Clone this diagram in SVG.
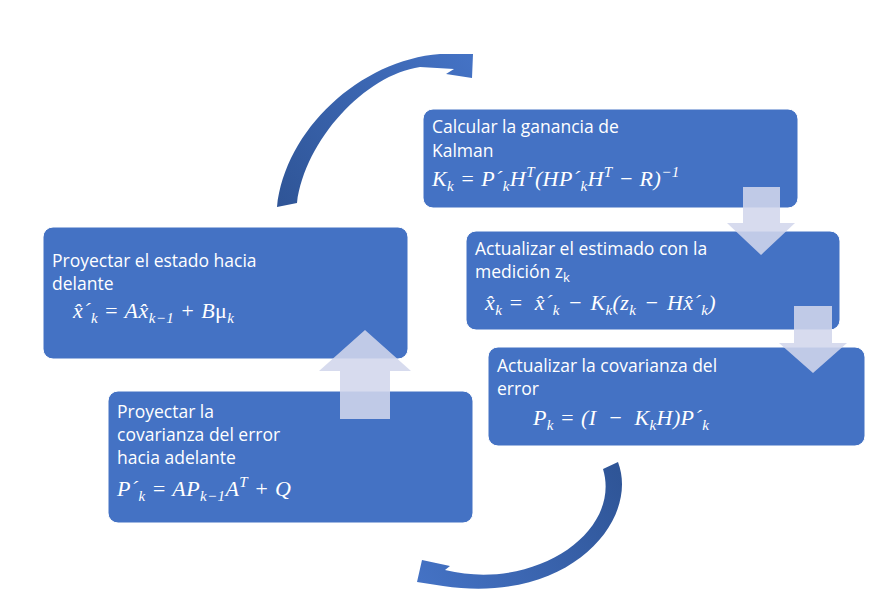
<svg xmlns="http://www.w3.org/2000/svg" width="886" height="605" viewBox="0 0 886 605">
<defs>
<style>
.box{fill:#4472c4;stroke:#ffffff;stroke-width:1}
.t{font-family:"Open Sans","Liberation Sans",sans-serif;font-size:17.5px;fill:#ffffff}
.m{font-family:"Liberation Serif","DejaVu Serif",serif;font-style:italic;font-size:22px;fill:#ffffff;letter-spacing:0.4px}
.up{font-style:normal}
.sb{font-size:15px;baseline-shift:-5px}
.sbs{font-size:13px;baseline-shift:-4px}
.sp{font-size:15px;baseline-shift:9px}
.blk{fill:rgb(209,214,236);fill-opacity:0.88}
</style>
<linearGradient id="gTop" gradientUnits="userSpaceOnUse" x1="280" y1="205" x2="470" y2="60">
<stop offset="0" stop-color="#2f5597"/>
<stop offset="1" stop-color="#4472c4"/>
</linearGradient>
<linearGradient id="gBot" gradientUnits="userSpaceOnUse" x1="615" y1="465" x2="420" y2="580">
<stop offset="0" stop-color="#2f5597"/>
<stop offset="1" stop-color="#4472c4"/>
</linearGradient>
</defs>
<rect width="886" height="605" fill="#ffffff"/>
<g id="nodes">
<g id="n-kalman">
<rect class="box" x="423" y="109" width="375" height="99" rx="10"/>
<text class="t" x="432" y="133">Calcular la ganancia de</text>
<text class="t" x="432" y="157">Kalman</text>
<text class="m" x="432" y="186">K<tspan class="sb">k</tspan> = P´<tspan class="sb">k</tspan>H<tspan class="sp">T</tspan>(HP´<tspan class="sb">k</tspan>H<tspan class="sp">T</tspan> − R)<tspan class="sp">−1</tspan></text>
</g>
<g id="n-estimado">
<rect class="box" x="466" y="231" width="374" height="99" rx="10"/>
<text class="t" x="475" y="255">Actualizar el estimado con la</text>
<text class="t" x="475" y="278">medición z<tspan class="sbs">k</tspan></text>
<text class="m" x="485" y="310">x̂<tspan class="sb">k</tspan> =&#x2002;x̂´<tspan class="sb">k</tspan>&#x2004;−&#x2004;K<tspan class="sb">k</tspan>(z<tspan class="sb">k</tspan>&#x2004;−&#x2004;Hx̂´<tspan class="sb">k</tspan>)</text>
</g>
<g id="n-covarianza">
<rect class="box" x="488" y="347" width="377" height="99" rx="10"/>
<text class="t" x="497" y="372">Actualizar la covarianza del</text>
<text class="t" x="497" y="395">error</text>
<text class="m" x="533" y="425">P<tspan class="sb">k</tspan> = (I&#x2002;−&#x2002;K<tspan class="sb">k</tspan>H)P´<tspan class="sb">k</tspan></text>
</g>
<g id="n-estado">
<rect class="box" x="43" y="227" width="365" height="132" rx="10"/>
<text class="t" x="52" y="267">Proyectar el estado hacia</text>
<text class="t" x="52" y="290">delante</text>
<text class="m" x="73" y="318">x̂´<tspan class="sb">k</tspan> = Ax̂<tspan class="sb">k−1</tspan> + B<tspan class="up">μ</tspan><tspan class="sb">k</tspan></text>
</g>
<g id="n-proyectar-cov">
<rect class="box" x="108" y="391" width="365" height="132" rx="10"/>
<text class="t" x="117" y="418">Proyectar la</text>
<text class="t" x="117" y="441">covarianza del error</text>
<text class="t" x="117" y="464">hacia adelante</text>
<text class="m" x="117" y="496">P´<tspan class="sb">k</tspan> = AP<tspan class="sb">k−1</tspan>A<tspan class="sp">T</tspan> +  Q</text>
</g>
</g>
<g id="connectors">
<polygon class="blk" points="743,187 780,187 780,223 795,223 761,255 727,223 743,223"/>
<polygon class="blk" points="794,306 832,306 832,343 847,343 813,373 779,343 794,343"/>
<polygon class="blk" points="365,330 411,371 390,371 390,419 340,419 340,371 319,371"/>
<path fill="url(#gTop)" d="M277,207 C285,130 360,60 440,54 L473,54 L472,78 L446,74 L454,69 L420,67 C365,75 305,140 297,203 Z"/>
<path fill="url(#gBot)" d="M603,469 L618,462 C640,520 570,605 443,586 L417,582 L422,560 L450,566 L445,570 C535,592 622,532 603,469 Z"/>
</g>
</svg>
